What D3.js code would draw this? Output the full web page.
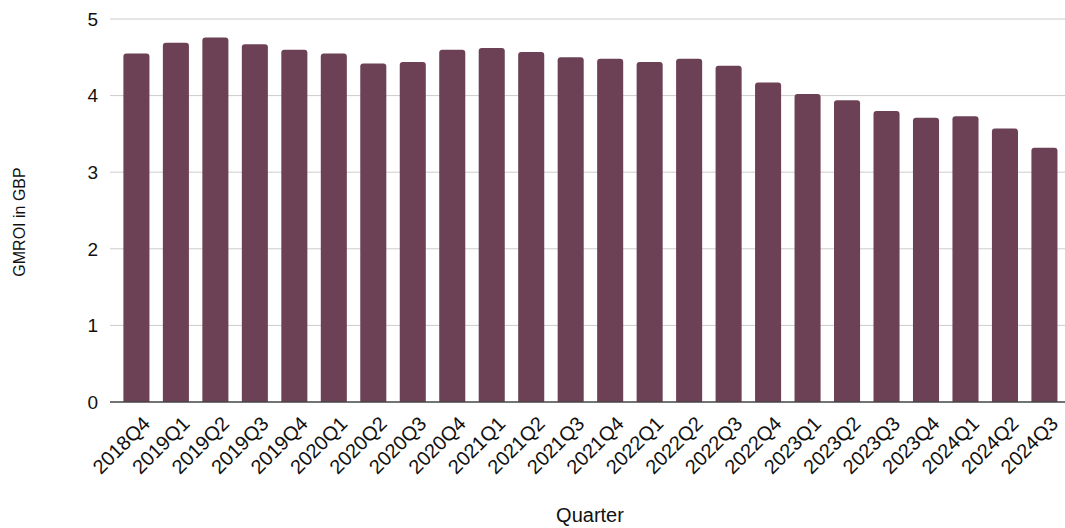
<!DOCTYPE html>
<html><head><meta charset="utf-8">
<script src="https://cdn.jsdelivr.net/npm/d3@7"></script>
<style>html,body{margin:0;padding:0;background:#fff;}svg{display:block;}</style>
</head><body>
<svg id="chart" width="1065" height="528"></svg>
<script>
const categories = ["2018Q4","2019Q1","2019Q2","2019Q3","2019Q4","2020Q1","2020Q2","2020Q3","2020Q4","2021Q1","2021Q2","2021Q3","2021Q4","2022Q1","2022Q2","2022Q3","2022Q4","2023Q1","2023Q2","2023Q3","2023Q4","2024Q1","2024Q2","2024Q3"];
const values = [4.55,4.69,4.76,4.67,4.60,4.55,4.42,4.44,4.60,4.62,4.57,4.50,4.48,4.44,4.48,4.39,4.17,4.02,3.94,3.80,3.71,3.73,3.57,3.32];
const yTicks = [0,1,2,3,4,5];

const svg = d3.select("#chart");
const mLeft = 110, mRight = 1065, mTop = 19, mBottom = 402;
const font = "'Liberation Sans', Arial, sans-serif";

const x = d3.scaleBand().domain(categories).range([mLeft, mRight])
  .paddingInner(0.34).paddingOuter(0.265).align(0.64);
const y = d3.scaleLinear().domain([0,5]).range([mBottom, mTop]);

svg.append("g").selectAll("line").data(yTicks.filter(d=>d>0)).join("line")
  .attr("x1", mLeft).attr("x2", mRight)
  .attr("y1", d=>y(d)).attr("y2", d=>y(d))
  .attr("stroke", "#cccccc").attr("stroke-width", 1);

svg.append("g").selectAll("text").data(yTicks).join("text")
  .attr("x", 98).attr("y", d=>y(d)).attr("dy","0.36em")
  .attr("text-anchor","end").attr("font-family",font).attr("font-size",19)
  .attr("fill","#111").text(d=>d);

const r = 3;
svg.append("g").selectAll("path").data(values).join("path")
  .attr("d", (d,i)=>{
    const x0 = x(categories[i]), w = x.bandwidth(), y0 = y(d), yb = y(0);
    return `M${x0},${yb}V${y0+r}Q${x0},${y0} ${x0+r},${y0}H${x0+w-r}Q${x0+w},${y0} ${x0+w},${y0+r}V${yb}Z`;
  })
  .attr("fill", "#6d4155");

svg.append("line").attr("x1", mLeft).attr("x2", mRight)
  .attr("y1", mBottom).attr("y2", mBottom)
  .attr("stroke", "#444").attr("stroke-width", 1.5);

svg.append("g").selectAll("text").data(categories).join("text")
  .attr("transform", d=>`translate(${x(d)+x.bandwidth()/2+5},${mBottom+13}) rotate(-45)`)
  .attr("text-anchor","end").attr("dy","0.7em")
  .attr("font-family",font).attr("font-size",20).attr("fill","#111").text(d=>d);

svg.append("text").attr("x", 590).attr("y", 522)
  .attr("text-anchor","middle").attr("font-family",font).attr("font-size",20)
  .attr("fill","#111").text("Quarter");
svg.append("text").attr("transform", `translate(25,222) rotate(-90)`)
  .attr("text-anchor","middle").attr("font-family",font).attr("font-size",16)
  .attr("fill","#111").text("GMROI in GBP");
</script>
</body></html>
